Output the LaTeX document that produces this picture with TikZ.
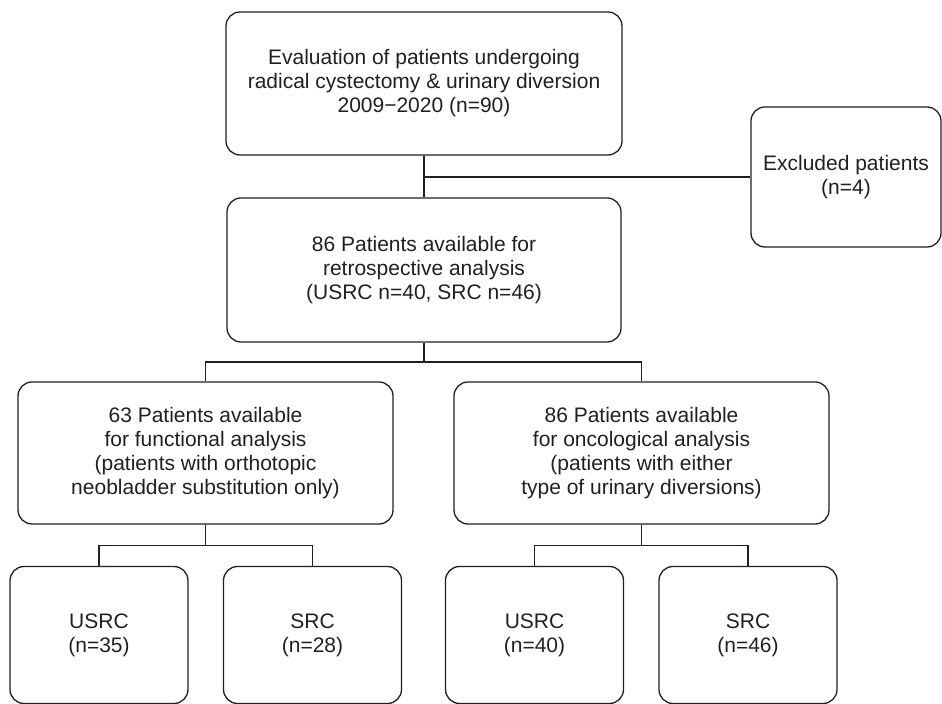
\documentclass[tikz,border=0pt]{standalone}
\usepackage{fontspec}
\setmainfont{Liberation Sans}
\usepackage{tikz}
\usetikzlibrary{positioning}
\definecolor{ink}{RGB}{35,31,32}

\begin{document}
\begin{tikzpicture}[on grid, auto,
    box/.style={draw=ink, text=ink, line width=0.65pt, rounded corners=7pt, align=center,
                inner sep=0pt, font=\fontsize{10.5}{12}\selectfont},
    link/.style={draw=ink, line width=0.65pt}]
    \useasboundingbox (0,0) rectangle (471pt,-352pt);

    \node[box, minimum width=198pt, minimum height=71.5pt] (b_top) at (212pt,-41.75pt)
        {Evaluation of patients undergoing\\radical cystectomy \& urinary diversion\\2009−2020 (n=90)};
    \node[box, minimum width=95pt, minimum height=70pt] (b_exc) [below right=46.75pt and 211pt of b_top]
        {Excluded patients\\(n=4)};
    \node[box, minimum width=197pt, minimum height=72pt] (b_all) [below=93.25pt of b_top]
        {86 Patients available for\\retrospective analysis\\(USRC n=40, SRC n=46)};
    \node[box, minimum width=187.5pt, minimum height=71pt] (b_fun) [below left=91.5pt and 109.25pt of b_all]
        {63 Patients available\\for functional analysis\\(patients with orthotopic\\neobladder substitution only)};
    \node[box, minimum width=187.5pt, minimum height=71pt] (b_onc) [below right=91.5pt and 108.75pt of b_all]
        {86 Patients available\\for oncological analysis\\(patients with either\\type of urinary diversions)};
    \node[box, minimum width=89pt, minimum height=68.5pt] (b_1) [below left=91pt and 53.25pt of b_fun]
        {USRC\\(n=35)};
    \node[box, minimum width=89pt, minimum height=68.5pt] (b_2) [below right=91pt and 53.5pt of b_fun]
        {SRC\\(n=28)};
    \node[box, minimum width=89pt, minimum height=68.5pt] (b_3) [below left=91pt and 53.5pt of b_onc]
        {USRC\\(n=40)};
    \node[box, minimum width=89pt, minimum height=68.5pt] (b_4) [below right=91pt and 53.25pt of b_onc]
        {SRC\\(n=46)};

    % connectors
    \path[link] (b_top) -- (b_all);
    \path[link] (b_exc.west) -- (b_exc.west -| b_top.south);
    \path[link] (b_all.south) -- ++(0,-9.75pt) coordinate (j_all);
    \path[link] (b_fun.north) |- (j_all) -| (b_onc.north);
    \path[link] (b_fun.south) -- ++(0,-10.5pt) coordinate (j_fun);
    \path[link] (b_1.north) |- (j_fun) -| (b_2.north);
    \path[link] (b_onc.south) -- ++(0,-10.5pt) coordinate (j_onc);
    \path[link] (b_3.north) |- (j_onc) -| (b_4.north);
\end{tikzpicture}
\end{document}
